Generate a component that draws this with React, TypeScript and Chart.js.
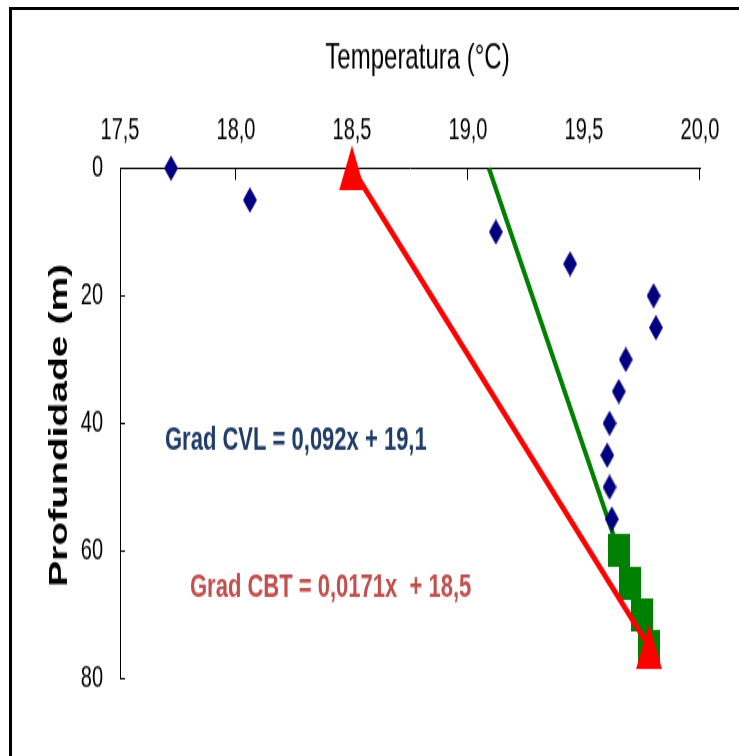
import React, { useEffect, useRef } from 'react';
import { Chart, registerables } from 'chart.js';

Chart.register(...registerables);

// ---- data ----
const xTickValues = [17.5, 18.0, 18.5, 19.0, 19.5, 20.0];
const xTickLabels = ['17,5', '18,0', '18,5', '19,0', '19,5', '20,0'];
const xMarkedTicks = [18.0, 19.0, 20.0];
const yTickValues = [0, 20, 40, 60, 80];
const yTickLabels = ['0', '20', '40', '60', '80'];
const yMarkedTicks = [20, 40, 60, 80];

// CVL measurements (diamonds)
const cvlDepth = [0, 5, 10, 15, 20, 25, 30, 35, 40, 45, 50, 55];
const cvlTemp = [17.72, 18.06, 19.12, 19.44, 19.8, 19.81, 19.68, 19.65, 19.61, 19.6, 19.61, 19.62];

// CBT measurements (squares)
const cbtDepth = [60, 65, 70, 75];
const cbtTemp = [19.65, 19.7, 19.75, 19.78];

// CBT end points (triangles)
const cbtEndDepth = [0, 75];
const cbtEndTemp = [18.5, 19.78];

// fitted gradient lines
const cvlFitDepth = [0, 60];
const cvlFitTemp = [19.09, 19.65];
const cbtFitDepth = [0, 75];
const cbtFitTemp = [18.5, 19.78];

const xTitle = 'Temperatura (°C)';
const yTitle = 'Profundidade (m)';
const cvlLabel = 'Grad CVL = 0,092x + 19,1';
const cbtLabel = 'Grad CBT = 0,0171x  + 18,5';

const FONT = "'Liberation Sans', Arial, sans-serif";

function toPoints(xs: number[], ys: number[]) {
  return xs.map((x, i) => ({ x, y: ys[i] }));
}

function makeMarker(w: number, h: number, color: string, shape: string) {
  const c = document.createElement('canvas');
  c.width = w;
  c.height = h;
  const g = c.getContext('2d')!;
  g.fillStyle = color;
  g.beginPath();
  if (shape === 'diamond') {
    g.moveTo(w / 2, 0);
    g.lineTo(w, h / 2);
    g.lineTo(w / 2, h);
    g.lineTo(0, h / 2);
  } else if (shape === 'triangle') {
    g.moveTo(w / 2, 0);
    g.lineTo(w, h);
    g.lineTo(0, h);
  } else {
    g.rect(0, 0, w, h);
  }
  g.closePath();
  g.fill();
  return c;
}

const overlayPlugin = {
  id: 'overlay',
  beforeDatasetsDraw(chart: any) {
    const ctx = chart.ctx;
    const { top, left } = chart.chartArea;
    const xs = chart.scales.x;
    const ys = chart.scales.y;
    ctx.save();
    ctx.strokeStyle = '#000';
    ctx.lineWidth = 1;
    ctx.beginPath();
    xMarkedTicks.forEach((v) => {
      const px = Math.round(xs.getPixelForValue(v)) - 0.5;
      ctx.moveTo(px, top);
      ctx.lineTo(px, top + 8);
    });
    yMarkedTicks.forEach((v) => {
      const py = Math.round(ys.getPixelForValue(v)) + 0.5;
      ctx.moveTo(left, py);
      ctx.lineTo(left + 5, py);
    });
    ctx.stroke();
    ctx.restore();
  },
  afterDraw(chart: any) {
    const ctx = chart.ctx;
    ctx.save();
    ctx.textBaseline = 'middle';
    // x title
    ctx.fillStyle = '#000';
    ctx.textAlign = 'center';
    ctx.font = `24px ${FONT}`;
    ctx.fillText(xTitle, 405.5, 32);
    // y title
    ctx.save();
    ctx.translate(48, 276.7);
    ctx.rotate(-Math.PI / 2);
    ctx.font = `bold 26px ${FONT}`;
    ctx.fillText(yTitle, 0, 0);
    ctx.restore();
    // annotations
    ctx.textAlign = 'left';
    ctx.font = `bold 22px ${FONT}`;
    ctx.fillStyle = '#1f3b66';
    ctx.fillText(cvlLabel, 153, 286.7);
    ctx.fillStyle = '#c0504d';
    ctx.fillText(cbtLabel, 178, 385.3);
    ctx.restore();
  },
};

export default function App() {
  const ref = useRef<HTMLCanvasElement>(null);

  useEffect(() => {
    if (!ref.current) return;
    const diamond = makeMarker(14, 17, '#000080', 'diamond');
    const square = makeMarker(22, 22, '#008000', 'square');
    const triangle = makeMarker(26, 30, '#ff0000', 'triangle');

    const chart = new Chart(ref.current, {
      type: 'scatter',
      data: {
        datasets: [
          {
            label: 'CVL',
            data: toPoints(cvlTemp, cvlDepth),
            pointStyle: diamond as any,
            pointRadius: 8,
            backgroundColor: '#000080',
            borderColor: '#000080',
            clip: false,
            order: 0,
          },
          {
            label: 'CBT extremos',
            data: toPoints(cbtEndTemp, cbtEndDepth),
            pointStyle: triangle as any,
            pointRadius: 12,
            backgroundColor: '#ff0000',
            borderColor: '#ff0000',
            clip: false,
            order: 1,
          },
          {
            label: 'Grad CBT',
            data: toPoints(cbtFitTemp, cbtFitDepth),
            showLine: true,
            pointRadius: 0,
            borderColor: '#ff0000',
            borderWidth: 4.5,
            clip: false,
            order: 2,
          },
          {
            label: 'CBT',
            data: toPoints(cbtTemp, cbtDepth),
            pointStyle: square as any,
            pointRadius: 11,
            backgroundColor: '#008000',
            borderColor: '#008000',
            clip: false,
            order: 3,
          },
          {
            label: 'Grad CVL',
            data: toPoints(cvlFitTemp, cvlFitDepth),
            showLine: true,
            pointRadius: 0,
            borderColor: '#008000',
            borderWidth: 4.2,
            clip: false,
            order: 4,
          },
        ],
      },
      options: {
        animation: false,
        responsive: false,
        devicePixelRatio: 1,
        layout: { padding: { left: 0, top: 0, right: 39, bottom: 51.67 } },
        plugins: {
          legend: { display: false },
          tooltip: { enabled: false },
          title: { display: false },
        },
        scales: {
          x: {
            type: 'linear',
            position: 'top',
            min: 17.5,
            max: 20.0,
            afterBuildTicks: (s: any) => {
              s.ticks = xTickValues.map((v) => ({ value: v }));
            },
            afterFit: (s: any) => {
              s.height = 105.33;
            },
            ticks: {
              autoSkip: false,
              maxRotation: 0,
              padding: 13,
              color: '#000',
              font: { family: FONT, size: 20 },
              callback: (_v: any, i: number) => xTickLabels[i],
            },
            grid: { display: true, color: 'rgba(0,0,0,0)', drawOnChartArea: false, drawTicks: false },
            border: { display: true, color: '#000', width: 1 },
          },
          y: {
            type: 'linear',
            reverse: true,
            min: 0,
            max: 80,
            afterBuildTicks: (s: any) => {
              s.ticks = yTickValues.map((v) => ({ value: v }));
            },
            afterFit: (s: any) => {
              s.width = 108;
            },
            ticks: {
              autoSkip: false,
              padding: 17,
              color: '#000',
              font: { family: FONT, size: 20 },
              callback: (_v: any, i: number) => yTickLabels[i],
            },
            grid: { display: true, color: 'rgba(0,0,0,0)', drawOnChartArea: false, drawTicks: false },
            border: { display: true, color: '#000', width: 1 },
          },
        },
      } as any,
      plugins: [overlayPlugin],
    });
    return () => chart.destroy();
  }, []);

  return (
    <div
      style={{
        position: 'fixed',
        left: 9,
        top: 7,
        width: 780,
        height: 780,
        borderLeft: '3px solid #000',
        borderTop: '3px solid #000',
        overflow: 'hidden',
        background: '#fff',
      }}
    >
      <canvas
        ref={ref}
        width={727}
        height={497}
        style={{ display: 'block', width: '727px', height: '745.5px' }}
      />
    </div>
  );
}
